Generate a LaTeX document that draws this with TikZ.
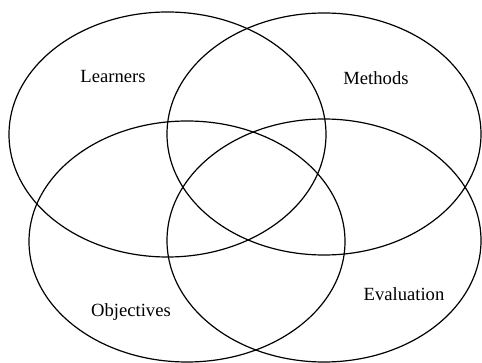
\documentclass[tikz,border=0pt]{standalone}
\usepackage{fontspec}
\setmainfont{Liberation Serif}
\begin{document}
\begin{tikzpicture}[x=1pt,y=-1pt,
  venn/.style={draw=black,line width=1.2pt},
  lbl/.style={font=\fontsize{18.6}{20}\selectfont,inner sep=0pt}]
\useasboundingbox (0,0) rectangle (482,363);
\draw[venn] (167.5,134.5) ellipse [x radius=158.5,y radius=122.5];
\draw[venn] (324,134) ellipse [x radius=157,y radius=121];
\draw[venn] (187,241.5) ellipse [x radius=158,y radius=120.5];
\draw[venn] (324,240.5) ellipse [x radius=157,y radius=121.5];
\node[lbl] (learners) at (113,77) {Learners};
\node[lbl] (methods) at (376,78) {Methods};
\node[lbl] (objectives) at (131,312) {Objectives};
\node[lbl] (evaluation) at (404,294) {Evaluation};
\end{tikzpicture}
\end{document}
